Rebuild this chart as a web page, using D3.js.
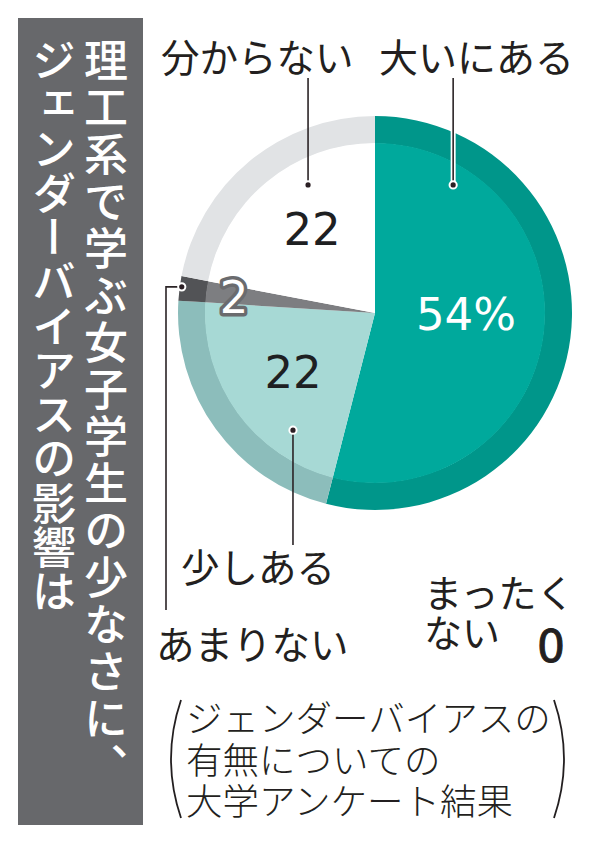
<!DOCTYPE html>
<html>
<head>
<meta charset="utf-8">
<script src="https://cdn.jsdelivr.net/npm/d3@7"></script>
<style>
  body { margin: 0; background: #fff; }
  svg { display: block; }
  text { font-family: "Noto Sans CJK JP", "Noto Sans", sans-serif; }
  text.num { font-family: "DejaVu Sans", "Noto Sans", sans-serif; }
</style>
</head>
<body>
<svg id="chart" width="599" height="844"></svg>
<script>
// survey answers, clockwise from 12 o'clock
const categories = ['大いにある', '少しある', 'まったくない', 'あまりない', '分からない'];
const values = [54, 22, 0, 2, 22];
const valueLabels = ['54%', '22', '0', '2', '22'];

const titleLines = ['理工系で学ぶ女子学生の少なさに、', 'ジェンダーバイアスの影響は'];
const noteLines = ['ジェンダーバイアスの', '有無についての', '大学アンケート結果'];

// fill colours: inner body / outer ring
const innerColors = ['#00a99c', '#a7d9d5', '#8d8e90', '#7d7e81', '#ffffff'];
const ringColors = ['#00968a', '#8cbdbb', '#5a5b5e', '#525356', '#e1e3e5'];

const svg = d3.select('#chart');

// title panel
svg.append('rect')
    .attr('x', 18).attr('y', 18)
    .attr('width', 125).attr('height', 807)
    .attr('fill', '#67686b');

const titleX = [106, 54];
const titleSpacing = [3, 0.3];
titleLines.forEach((t, i) => {
    svg.append('text')
        .attr('x', titleX[i])
        .attr('y', 38)
        .attr('writing-mode', 'vertical-rl')
        .attr('font-size', 44)
        .attr('font-weight', 500)
        .attr('letter-spacing', titleSpacing[i])
        .attr('fill', '#fff')
        .text(t);
});

// pie
const cx = 375, cy = 313;
const rInner = 170, rOuter = 197;

const pie = d3.pie().sort(null).value(d => d)(values);
const g = svg.append('g').attr('transform', `translate(${cx},${cy})`);

const ringArc = d3.arc().innerRadius(rInner - 0.5).outerRadius(rOuter);
const bodyArc = d3.arc().innerRadius(0).outerRadius(rInner);

g.selectAll('path.ring')
    .data(pie)
    .join('path')
    .attr('class', 'ring')
    .attr('d', ringArc)
    .attr('fill', (d, i) => ringColors[i]);

g.selectAll('path.body')
    .data(pie)
    .join('path')
    .attr('class', 'body')
    .attr('d', bodyArc)
    .attr('fill', (d, i) => innerColors[i]);

// value labels inside the pie (offset from centre)
const valuePos = [
    { i: 0, dx: 91, dy: 17, color: '#fff' },
    { i: 1, dx: -82, dy: 75, color: '#1e2022' },
    { i: 4, dx: -63, dy: -68, color: '#1e2022' }
];
valuePos.forEach(p => {
    g.append('text')
        .attr('class', 'num')
        .attr('x', p.dx).attr('y', p.dy)
        .attr('text-anchor', 'middle')
        .attr('font-size', 45)
        .attr('fill', p.color)
        .text(valueLabels[p.i]);
});

// the small "2" with a grey halo
g.append('text')
    .attr('class', 'num')
    .attr('x', -141).attr('y', 0)
    .attr('text-anchor', 'middle')
    .attr('font-size', 45)
    .attr('fill', '#fff')
    .attr('stroke', '#6a6b6e')
    .attr('stroke-width', 7)
    .attr('stroke-linejoin', 'round')
    .attr('paint-order', 'stroke')
    .text(valueLabels[3]);

// leader lines: dot on the slice, line out to the label
const polar = (angleDeg, r) => {
    const a = angleDeg * Math.PI / 180;
    return [cx + r * Math.sin(a), cy - r * Math.cos(a)];
};

const leaders = [
    { dot: polar(31.4, 150), path: p => `M${p[0]},${p[1]}V78`, halo: true },
    { dot: polar(-27.6, 144.5), path: p => `M${p[0]},${p[1]}V78`, halo: false },
    { dot: polar(215, 143), path: p => `M${p[0]},${p[1]}V545`, halo: false },
    { dot: polar(277.7, 195), path: p => `M${p[0]},${p[1]}H166V610`, halo: false }
];

leaders.forEach(l => {
    if (l.halo) {
        svg.append('path')
            .attr('d', l.path(l.dot))
            .attr('fill', 'none')
            .attr('stroke', '#fff')
            .attr('stroke-width', 5);
    }
    svg.append('path')
        .attr('d', l.path(l.dot))
        .attr('fill', 'none')
        .attr('stroke', '#2b2426')
        .attr('stroke-width', 1.6);
    svg.append('circle')
        .attr('cx', l.dot[0]).attr('cy', l.dot[1])
        .attr('r', 3.6)
        .attr('fill', '#2b1f24')
        .attr('stroke', '#fff')
        .attr('stroke-width', 2);
});

// category labels
const labelPos = [
    { text: categories[0], x: 379, y: 72, size: 39 },
    { text: categories[4], x: 161, y: 72, size: 38.5 },
    { text: categories[1], x: 181, y: 582, size: 38.5 },
    { text: categories[3], x: 156, y: 659, size: 38.5 },
    { text: 'まったく', x: 424, y: 607, size: 38 },
    { text: 'ない', x: 424, y: 647, size: 38 }
];
labelPos.forEach(l => {
    svg.append('text')
        .attr('x', l.x).attr('y', l.y)
        .attr('font-size', l.size)
        .attr('fill', '#231f20')
        .text(l.text);
});

svg.append('text')
    .attr('class', 'num')
    .attr('x', 551).attr('y', 662)
    .attr('text-anchor', 'middle')
    .attr('font-size', 44)
    .attr('fill', '#231f20')
    .attr('stroke', '#231f20')
    .attr('stroke-width', 1)
    .text(valueLabels[2]);

// note in parentheses
noteLines.forEach((t, i) => {
    svg.append('text')
        .attr('x', 186)
        .attr('y', 732 + i * 41.5)
        .attr('font-size', 36.5)
        .attr('font-weight', 300)
        .attr('fill', '#231f20')
        .text(t);
});

svg.append('path')
    .attr('d', 'M181,700 Q161,759 181,818')
    .attr('fill', 'none')
    .attr('stroke', '#231f20')
    .attr('stroke-width', 1.8);
svg.append('path')
    .attr('d', 'M554,700 Q574,759 554,818')
    .attr('fill', 'none')
    .attr('stroke', '#231f20')
    .attr('stroke-width', 1.8);
</script>
</body>
</html>
